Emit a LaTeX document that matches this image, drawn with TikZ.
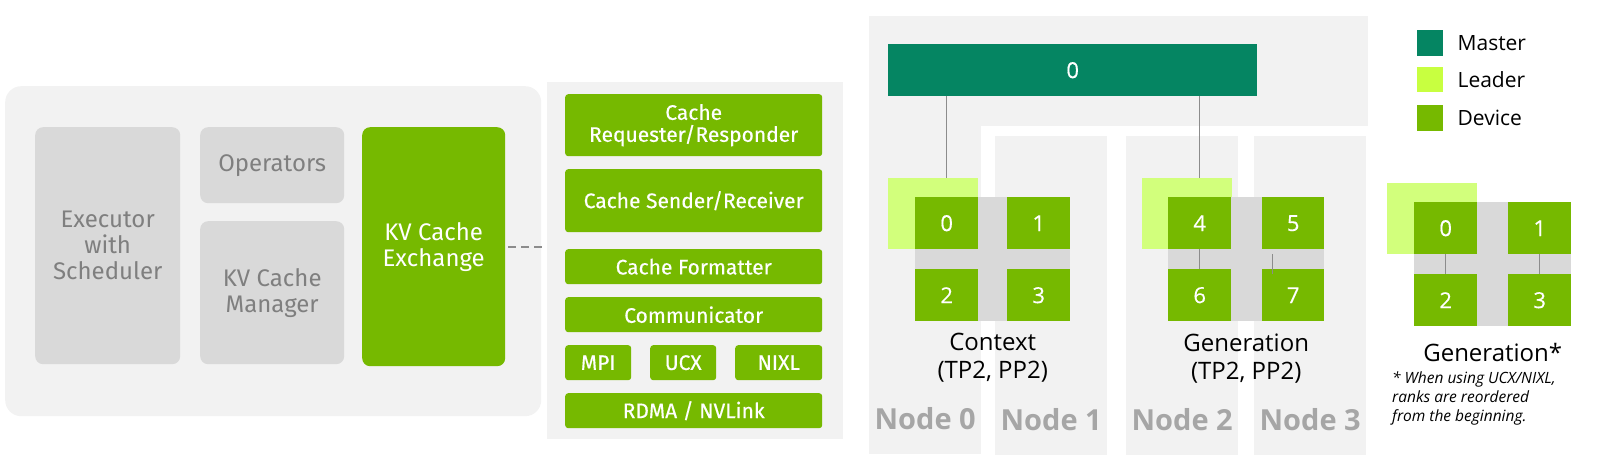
\documentclass[tikz,border=0pt]{standalone}
\usepackage{fontspec}
\setmainfont{Open Sans}
\newfontfamily\firafont{Fira Sans}
\newfontfamily\firamed{Fira Sans}[FakeBold=0.4]
\newfontfamily\digitfont{Open Sans}[FakeBold=0.4]
\usetikzlibrary{positioning}
\definecolor{nvgreen}{HTML}{76B900}
\definecolor{master}{HTML}{058562}
\definecolor{leader}{HTML}{C8FF40}
\definecolor{leadpale}{HTML}{D2FF7C}
\definecolor{panel}{HTML}{F2F2F2}
\definecolor{boxgray}{HTML}{D9D9D9}
\definecolor{textgray}{HTML}{7F7F7F}
\definecolor{labelgray}{HTML}{A6A6A6}
\definecolor{wire}{HTML}{8C8C8C}
\tikzset{
  box/.style={anchor=north west, inner sep=0pt, align=center},
  graybox/.style={box, fill=boxgray, rounded corners=8pt, text=textgray,
    font=\firafont\fontsize{24}{26}\selectfont},
  greenbox/.style={box, fill=nvgreen, rounded corners=3pt, text=white,
    font=\firamed\fontsize{21}{22}\selectfont},
  dev/.style={box, fill=nvgreen, text=white, minimum width=63, minimum height=52,
    font=\digitfont\fontsize{22}{24}\selectfont},
  wire/.style={draw=wire, line width=1pt},
  nodelbl/.style={inner sep=0pt, text=labelgray, font=\bfseries\fontsize{29}{32}\selectfont},
  grouplbl/.style={inner sep=0pt, align=center, font=\fontsize{24}{28}\selectfont},
  legtext/.style={inner sep=0pt, font=\fontsize{21}{24}\selectfont},
}
\begin{document}
\begin{tikzpicture}[x=1pt, y=-1pt]
      \useasboundingbox (0,0) rectangle (1600,468);
      \node[box, fill=panel, rounded corners=16pt, minimum width=536, minimum height=330] (leftpanel) at (5,86) {};
      \node[graybox, minimum width=145, minimum height=237] (exec) at (35,127) {Executor\\with\\Scheduler};
      \node[graybox, minimum width=144, minimum height=76] (ops) at (200,127) {Operators};
      \node[graybox, minimum width=144, minimum height=143] (kvman) at (200,221) {KV Cache\\Manager};
      \node[graybox, fill=nvgreen, text=white, minimum width=143, minimum height=239] (xchg) at (362,127) {KV Cache\\Exchange};

      \node[box, fill=panel, minimum width=296, minimum height=357] (midpanel) at (547,82) {};
      \node[greenbox, minimum width=257, minimum height=62] (reqresp) at (565,94) {Cache\\Requester/Responder};
      \node[greenbox, minimum width=257, minimum height=63] (sendrecv) at (565,169) {Cache Sender/Receiver};
      \node[greenbox, minimum width=257, minimum height=35] (fmt) at (565,249) {Cache Formatter};
      \node[greenbox, minimum width=257, minimum height=35] (comm) at (565,297) {Communicator};
      \node[greenbox, minimum width=66, minimum height=35] (mpi) at (565,345) {MPI};
      \node[greenbox, minimum width=66, minimum height=35] (ucx) at (650,345) {UCX};
      \node[greenbox, minimum width=87, minimum height=35] (nixl) at (735,345) {NIXL};
      \node[greenbox, minimum width=257, minimum height=35] (rdma) at (565,393) {RDMA / NVLink};

      \node[box, fill=panel, minimum width=499, minimum height=110] (topbar) at (869,16) {};
      \node[box, fill=panel, minimum width=112, minimum height=438] (col0) at (869,16) {};
      \node[box, fill=panel, minimum width=112, minimum height=319] (col1) at (995,136) {};
      \node[box, fill=panel, minimum width=112, minimum height=319] (col2) at (1126,136) {};
      \node[box, fill=panel, minimum width=112, minimum height=319] (col3) at (1254,136) {};
      \node[nodelbl] (n0) at ([yshift=36pt]col0.south) {Node 0};
      \node[nodelbl] (n1) at ([yshift=36pt]col1.south) {Node 1};
      \node[nodelbl] (n2) at ([yshift=36pt]col2.south) {Node 2};
      \node[nodelbl] (n3) at ([yshift=36pt]col3.south) {Node 3};

      \node[box, fill=master, text=white, minimum width=369, minimum height=52,
        font=\digitfont\fontsize{22}{24}\selectfont] (mst) at (888,44) {0};

      \node[box, fill=leadpale, minimum width=90, minimum height=71] (ctxlead) at (888,178) {};
      \node[box, fill=boxgray, minimum width=155, minimum height=124] (ctxgrid) at (915,197) {};
      \node[dev] (c0) at (915,197) {0};
      \node[dev] (c1) at (1007,197) {1};
      \node[dev] (c2) at (915,269) {2};
      \node[dev] (c3) at (1007,269) {3};
      \node[grouplbl, below=12pt of ctxgrid] (ctxlbl) {Context\\(TP2, PP2)};

      \node[box, fill=leadpale, minimum width=90, minimum height=71] (genlead) at (1142,178) {};
      \node[box, fill=boxgray, minimum width=156, minimum height=124] (gengrid) at (1168,197) {};
      \node[dev] (g4) at (1168,197) {4};
      \node[dev, minimum width=62] (g5) at (1262,197) {5};
      \node[dev] (g6) at (1168,269) {6};
      \node[dev, minimum width=62] (g7) at (1262,269) {7};
      \node[grouplbl, below=12pt of gengrid] (genlbl) {Generation\\(TP2, PP2)};

      \node[box, fill=master, minimum width=26, minimum height=26] (lgm) at (1417,30) {};
      \node[box, fill=leader, minimum width=26, minimum height=25] (lgl) at (1417,67) {};
      \node[box, fill=nvgreen, minimum width=26, minimum height=26] (lgd) at (1417,105) {};
      \node[legtext, right=14pt of lgm] (lgmtext) {Master};
      \node[legtext, right=14pt of lgl] (lgltext) {Leader};
      \node[legtext, right=14pt of lgd] (lgdtext) {Device};

      \node[box, fill=leadpale, minimum width=90, minimum height=71] (starlead) at (1387,183) {};
      \node[box, fill=boxgray, minimum width=157, minimum height=124] (stargrid) at (1414,202) {};
      \node[dev] (s0) at (1414,202) {0};
      \node[dev] (s1) at (1508,202) {1};
      \node[dev] (s2) at (1414,274) {2};
      \node[dev] (s3) at (1508,274) {3};
      \node[grouplbl, below=17pt of stargrid] (starlbl) {Generation*};
      \node[box, align=left, font=\itshape\fontsize{15.5}{19}\selectfont] (note) at (1392,371)
        {* When using UCX/NIXL,\\ranks are reordered\\from the beginning.};

      \begin{scope}[wire]
        \draw[line width=2pt, dash pattern=on 8pt off 5pt, shorten <=3pt, shorten >=2pt]
          (xchg.east) -- (xchg.east -| midpanel.west);
        \draw (mst.south -| c0.north) -- (ctxlead.north -| c0.north);
        \draw (mst.south -| g4.north) -- (genlead.north -| g4.north);
        \draw (g4) -- (g6);
        \draw ([xshift=-21pt, yshift=-5pt]g5.south) -- ([xshift=-21pt, yshift=-5pt]g7.north);
        \draw (s0) -- (s2);
        \draw (s1) -- (s3);
      \end{scope}
    \end{tikzpicture}
\end{document}
